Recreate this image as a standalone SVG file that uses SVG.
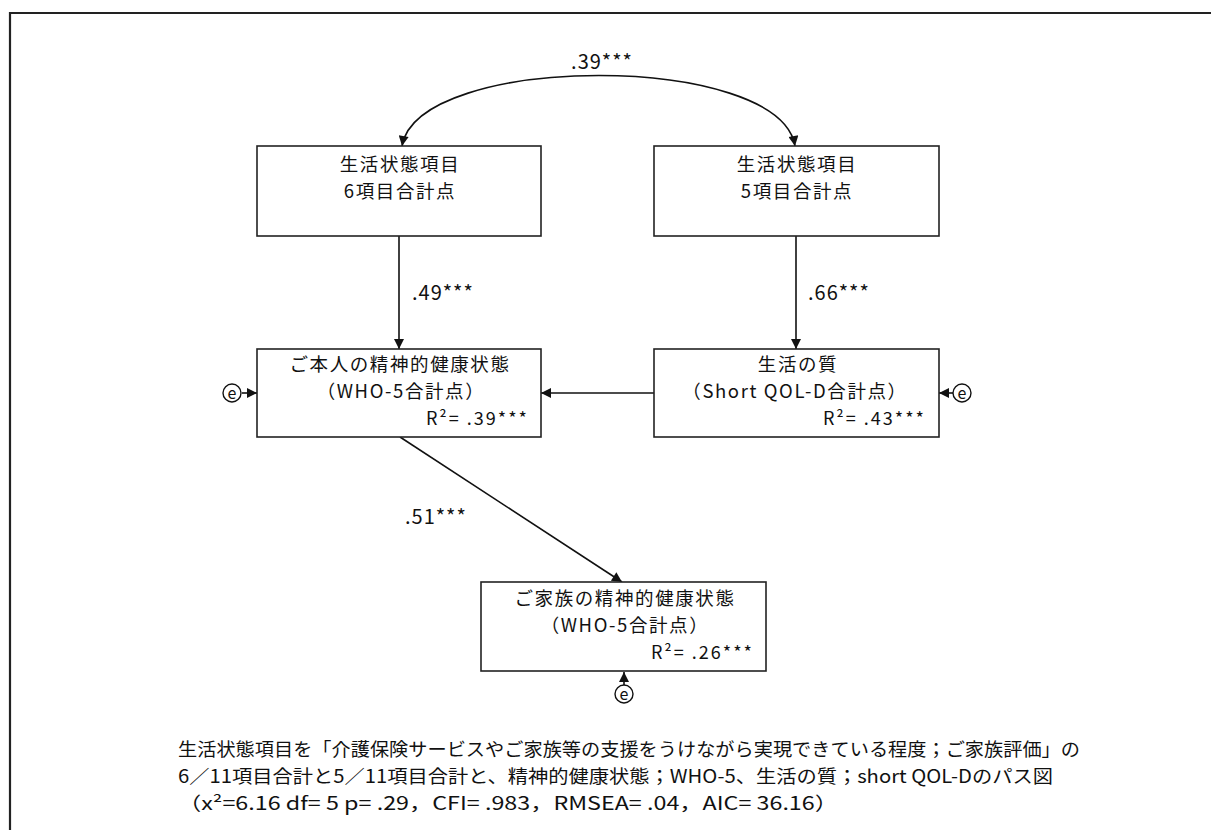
<svg xmlns="http://www.w3.org/2000/svg" width="1211" height="830" viewBox="0 0 1211 830">
<style>
  text { font-family: "Noto Sans CJK JP", "Noto Sans", sans-serif; fill: #111; }
  .box { fill: #fff; stroke: #222; stroke-width: 1.6; }
  .lbl { font-size: 20px; letter-spacing: 1px; }
  .nt { font-size: 18.5px; letter-spacing: 1.6px; }
  .r2 { font-size: 18px; letter-spacing: 2px; }
  .mid { text-anchor: middle; }
  .end { text-anchor: end; }
  .conn { fill: none; stroke: #111; stroke-width: 1.6; }
  .err { fill: #fff; stroke: #111; stroke-width: 1.4; }
  .e { font-size: 16px; text-anchor: middle; }
  .note { font-size: 18.5px; }
</style>
<defs>
  <marker id="ah" viewBox="0 0 10 10" refX="10" refY="5" markerWidth="12" markerHeight="10" markerUnits="userSpaceOnUse" orient="auto-start-reverse">
    <path d="M0,0 L10,5 L0,10 z" fill="#111"/>
  </marker>
</defs>
<rect width="1211" height="830" fill="#fff"/>
<path d="M10 830 V13 H1211" fill="none" stroke="#222" stroke-width="2.2"/>

<g id="connectors">
  <path class="conn" d="M402 146 C418 52, 780 52, 795 146" marker-start="url(#ah)" marker-end="url(#ah)"/>
  <line class="conn" x1="399" y1="236" x2="399" y2="349" marker-end="url(#ah)"/>
  <line class="conn" x1="796" y1="236" x2="796" y2="349" marker-end="url(#ah)"/>
  <line class="conn" x1="654" y1="393" x2="541" y2="393" marker-end="url(#ah)"/>
  <line class="conn" x1="400" y1="437" x2="622" y2="582" marker-end="url(#ah)"/>
  <line class="conn" x1="242" y1="393" x2="257" y2="393" marker-end="url(#ah)"/>
  <line class="conn" x1="953" y1="393" x2="939" y2="393" marker-end="url(#ah)"/>
  <line class="conn" x1="624" y1="685" x2="624" y2="672" marker-end="url(#ah)"/>
  <text class="lbl mid" x="602" y="69">.39***</text>
  <text class="lbl" x="412" y="300">.49***</text>
  <text class="lbl" x="808" y="300">.66***</text>
  <text class="lbl" x="405" y="524">.51***</text>
</g>

<g id="node-life6">
  <rect class="box" x="257" y="146" width="284" height="90"/>
  <text class="nt mid" x="400" y="171">生活状態項目</text>
  <text class="nt mid" x="400" y="198">6項目合計点</text>
</g>
<g id="node-life5">
  <rect class="box" x="654" y="146" width="285" height="90"/>
  <text class="nt mid" x="797" y="171">生活状態項目</text>
  <text class="nt mid" x="797" y="198">5項目合計点</text>
</g>
<g id="node-self">
  <rect class="box" x="257" y="349" width="284" height="88"/>
  <text class="nt mid" x="400" y="371">ご本人の精神的健康状態</text>
  <text class="nt mid" x="401" y="398">（WHO-5合計点）</text>
  <text class="r2 end" x="529" y="425">R²= .39***</text>
</g>
<g id="node-qol">
  <rect class="box" x="654" y="349" width="285" height="88"/>
  <text class="nt mid" x="798" y="371">生活の質</text>
  <text class="nt mid" x="795" y="398">（Short QOL-D合計点）</text>
  <text class="r2 end" x="926" y="425">R²= .43***</text>
</g>
<g id="node-family">
  <rect class="box" x="481" y="582" width="285" height="89"/>
  <text class="nt mid" x="625" y="605">ご家族の精神的健康状態</text>
  <text class="nt mid" x="625" y="632">（WHO-5合計点）</text>
  <text class="r2 end" x="754" y="659">R²= .26***</text>
</g>
<g id="err-self">
  <circle class="err" cx="232" cy="393" r="9"/>
  <text class="e" x="232" y="398.5">e</text>
</g>
<g id="err-qol">
  <circle class="err" cx="962" cy="393" r="9"/>
  <text class="e" x="962" y="398.5">e</text>
</g>
<g id="err-family">
  <circle class="err" cx="624" cy="694" r="9"/>
  <text class="e" x="624" y="699.5">e</text>
</g>

<g id="caption">
  <text class="note" x="178" y="756" textLength="902" lengthAdjust="spacingAndGlyphs">生活状態項目を「介護保険サービスやご家族等の支援をうけながら実現できている程度；ご家族評価」の</text>
  <text class="note" x="178" y="783" textLength="875" lengthAdjust="spacingAndGlyphs">6／11項目合計と5／11項目合計と、精神的健康状態；WHO-5、生活の質；short QOL-Dのパス図</text>
  <text class="note" x="178" y="810" textLength="660" lengthAdjust="spacingAndGlyphs">（x²=6.16 df= 5 p= .29，CFI= .983，RMSEA= .04，AIC= 36.16）</text>
</g>
</svg>
